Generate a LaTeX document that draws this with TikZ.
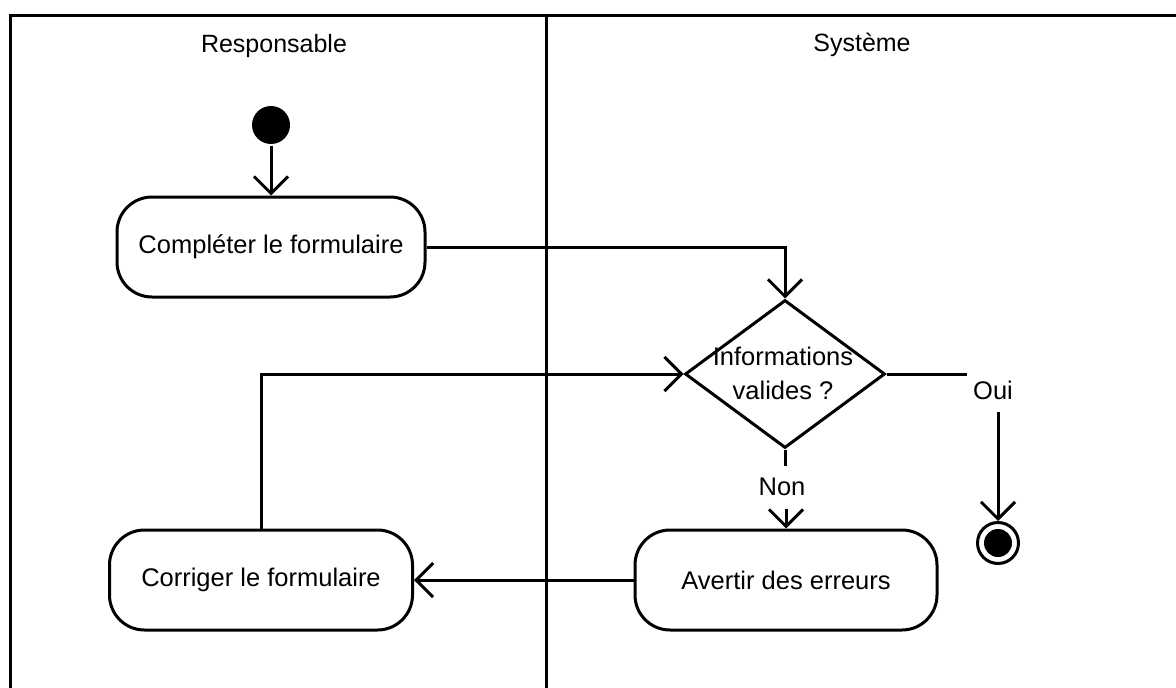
\documentclass[tikz,border=0pt]{standalone}
\usepackage{fontspec}
\setmainfont{Liberation Sans}
\usetikzlibrary{arrows.meta,shapes.geometric}
\begin{document}
\begin{tikzpicture}[x=1pt,y=-1pt,line width=3pt,
  every node/.style={font=\fontsize{25.5}{34}\selectfont},
  act/.style={draw,rounded corners=35pt,minimum height=100pt,inner sep=0pt},
  arr/.style={-{Straight Barb[length=17pt,width=34pt]}},
  lbl/.style={inner ysep=0pt,inner xsep=5pt,minimum height=40pt},
  lane/.style={inner sep=2pt,font=\fontsize{25}{30}\selectfont}]
\useasboundingbox (0,0) rectangle (1176,688);
% frame and lanes
\draw (10,688) -- (10,15) -- (1176,15);
\draw (546,15) -- (546,688);
\node[lane] (resp) at (274,46) {Responsable};
\node[lane] (sys) at (862,45) {Système};
% nodes
\node[circle,fill,minimum size=38pt,inner sep=0pt] (init) at (271,125) {};
\node[act,minimum width=308pt] (a1) at (271,247) {Compléter le formulaire};
\node[diamond,draw,minimum width=200pt,minimum height=148pt,inner sep=0pt,aspect=1.35] (dec) at (785,374) {};
\node[align=center,inner sep=0pt] (dectext) at (783,373) {Informations\\valides ?};
\node[lbl] (oui) at (993,390) {Oui};
\node[lbl] (non) at (782,487) {Non};
\node[act,minimum width=302pt] (a2) at (786,580) {Avertir des erreurs};
\node[act,minimum width=303pt] (a3) at (261,580) {Corriger le formulaire};
\node[circle,draw,minimum size=41pt,inner sep=0pt] (fin) at (998,543) {};
\node[circle,fill,minimum size=28pt,inner sep=0pt] (fincore) at (fin.center) {};
% connectors
\draw[arr] (init) -- (a1.north);
\draw[arr] (a1.east) -| (dec.north);
\draw (dec.east) -- (dec.east -| oui.west);
\draw[arr] (oui.south -| fin.north) -- (fin.north);
\draw (dec.south) -- (dec.south |- non.north);
\draw[arr] (non.south -| a2.north) -- (a2.north);
\draw[arr] (a2.west) -- (a3.east);
\draw[arr] (a3.north) |- (dec.west);
\end{tikzpicture}
\end{document}
